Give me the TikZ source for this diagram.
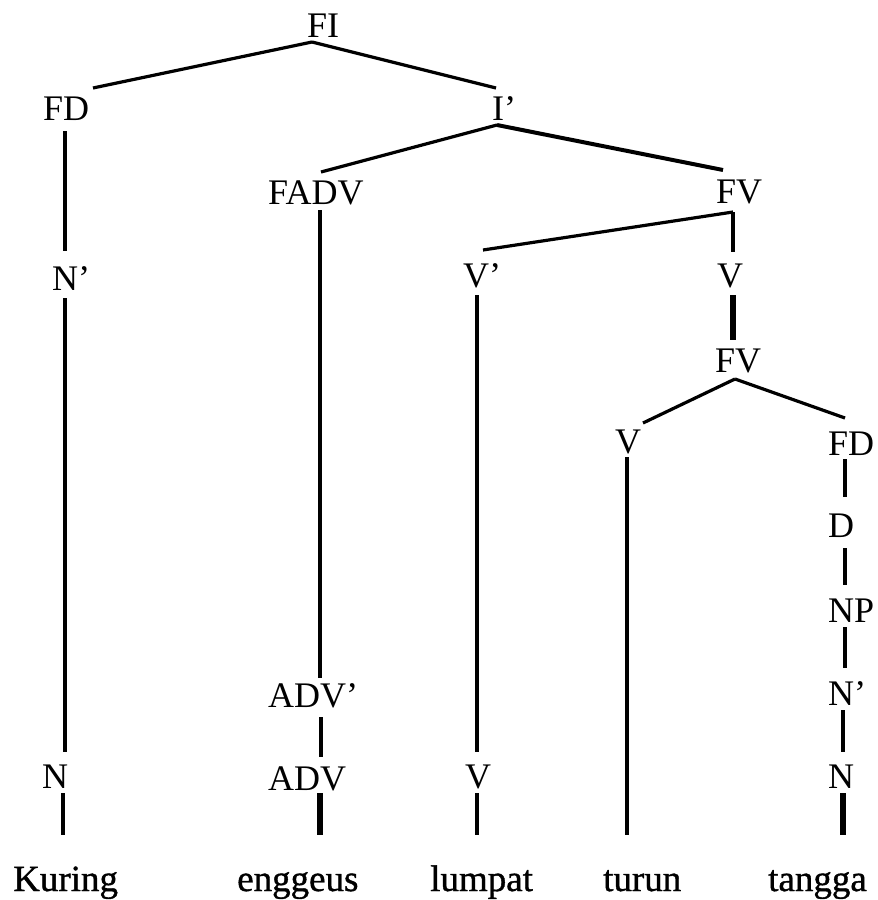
\documentclass[tikz,border=0pt]{standalone}
\usepackage{fontspec}
\setmainfont{Liberation Serif}
\newfontfamily\wordfont[FakeBold=1]{Liberation Serif}
\begin{document}
\begin{tikzpicture}[x=1pt,y=-1pt,
  cat/.style={inner sep=0pt, anchor=base west, text height=24pt, text depth=0pt,
              font=\fontsize{36}{40}\selectfont},
  word/.style={cat, font=\wordfont\fontsize{37}{40}\selectfont},
  branch/.style={line width=3.2pt},
  heavy/.style={line width=5.5pt},
  mid/.style={line width=4pt}]
\useasboundingbox (0,0) rectangle (878,900);

% category labels
\node[cat] (FI)   at (307,37)  {FI};
\node[cat] (FDa)  at (43,120)  {FD};
\node[cat] (Npa)  at (52,290)  {N’};
\node[cat] (Na)   at (42,788)  {N};
\node[cat] (Ip)   at (492,120) {I’};
\node[cat] (FADV) at (268,204) {FADV};
\node[cat] (ADVp) at (268,707) {ADV’};
\node[cat] (ADV)  at (268,790) {ADV};
\node[cat] (FVa)  at (716,203) {FV};
\node[cat] (Vp)   at (463,287) {V’};
\node[cat] (Vb)   at (465,788) {V};
\node[cat] (Vc)   at (717,287) {V};
\node[cat] (FVb)  at (715,372) {FV};
\node[cat] (Vd)   at (615,453) {V};
\node[cat] (FDb)  at (828,455) {FD};
\node[cat] (D)    at (828,537) {D};
\node[cat] (NP)   at (828,622) {NP};
\node[cat] (Npb)  at (828,705) {N’};
\node[cat] (Nb)   at (828,788) {N};

% terminal words
\node[word] (kuring)  at (13,891)  {Kuring};
\node[word] (enggeus) at (237,891) {enggeus};
\node[word] (lumpat)  at (430,891) {lumpat};
\node[word] (turun)   at (603,891) {turun};
\node[word] (tangga)  at (768,891) {tangga};

% branches
\draw[branch] ([xshift=5pt,yshift=-5pt]FI.base west) -- ([xshift=50pt,yshift=32pt]FDa.base west);
\draw[branch] ([xshift=5pt,yshift=-5pt]FI.base west) -- ([xshift=4pt,yshift=32pt]Ip.base west);
\draw[branch] ([xshift=22pt,yshift=-11pt]FDa.base west) -- ([xshift=13pt,yshift=39pt]Npa.base west);
\draw[branch] ([xshift=13pt,yshift=-8pt]Npa.base west) -- ([xshift=23pt,yshift=36pt]Na.base west);
\draw[branch] ([xshift=21pt,yshift=-5pt]Na.base west) -- ([xshift=50pt,yshift=56pt]kuring.base west);

\draw[branch] ([xshift=5pt,yshift=-5pt]Ip.base west) -- ([xshift=53pt,yshift=32pt]FADV.base west);
\draw[mid]    ([xshift=5pt,yshift=-5pt]Ip.base west) -- ([xshift=7pt,yshift=33pt]FVa.base west);
\draw[mid]    ([xshift=52pt,yshift=-6pt]FADV.base west) -- ([xshift=52pt,yshift=29pt]ADVp.base west);
\draw[branch] ([xshift=53pt,yshift=-10pt]ADVp.base west) -- ([xshift=53pt,yshift=33pt]ADV.base west);
\draw[heavy]  ([xshift=52pt,yshift=-3pt]ADV.base west) -- ([xshift=83pt,yshift=56pt]enggeus.base west);

\draw[branch] ([xshift=17pt,yshift=-9pt]FVa.base west) -- ([xshift=20pt,yshift=37pt]Vp.base west);
\draw[branch] ([xshift=17pt,yshift=-9pt]FVa.base west) -- ([xshift=16pt,yshift=35pt]Vc.base west);
\draw[branch] ([xshift=14pt,yshift=-8pt]Vp.base west) -- ([xshift=12pt,yshift=36pt]Vb.base west);
\draw[branch] ([xshift=12pt,yshift=-5pt]Vb.base west) -- ([xshift=47pt,yshift=56pt]lumpat.base west);
\draw[heavy]  ([xshift=16pt,yshift=-8pt]Vc.base west) -- ([xshift=18pt,yshift=32pt]FVb.base west);

\draw[branch] ([xshift=20pt,yshift=-7pt]FVb.base west) -- ([xshift=28pt,yshift=30pt]Vd.base west);
\draw[branch] ([xshift=20pt,yshift=-7pt]FVb.base west) -- ([xshift=17pt,yshift=37pt]FDb.base west);
\draw[branch] ([xshift=12pt,yshift=-4pt]Vd.base west) -- ([xshift=24pt,yshift=56pt]turun.base west);
\draw[branch] ([xshift=17pt,yshift=-4pt]FDb.base west) -- ([xshift=17pt,yshift=40pt]D.base west);
\draw[branch] ([xshift=17pt,yshift=-11pt]D.base west) -- ([xshift=17pt,yshift=37pt]NP.base west);
\draw[branch] ([xshift=17pt,yshift=-5pt]NP.base west) -- ([xshift=17pt,yshift=37pt]Npb.base west);
\draw[branch] ([xshift=15pt,yshift=-5pt]Npb.base west) -- ([xshift=15pt,yshift=36pt]Nb.base west);
\draw[heavy]  ([xshift=15pt,yshift=-5pt]Nb.base west) -- ([xshift=75pt,yshift=56pt]tangga.base west);
\end{tikzpicture}
\end{document}
